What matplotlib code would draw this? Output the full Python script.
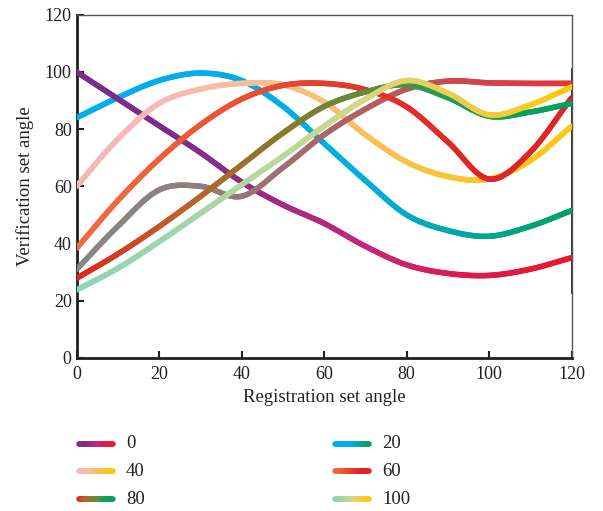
import numpy as np
import matplotlib
matplotlib.use('Agg')
import matplotlib.pyplot as plt
from matplotlib.collections import LineCollection
from matplotlib.colors import LinearSegmentedColormap

plt.rcParams['font.family'] = ['Liberation Serif', 'DejaVu Serif']

# Кути реєстраційного набору (вісь x)
x = [0, 10, 20, 30, 40, 50, 60, 70, 80, 90, 100, 110, 120]

# Значення
y_0 = [100, 90.6, 81.2, 71.8, 61.5, 53.5, 47, 39, 32.5, 29.5, 28.8, 31, 35]
y_20 = [84, 91, 97, 99.6, 97, 88, 75, 62, 50, 44.5, 42.5, 46, 51.5]
y_40 = [60, 76.5, 89, 94, 96, 95.5, 89.5, 78, 68.5, 63.4, 62.5, 69, 81]
y_60 = [38.3, 55, 69.5, 81.5, 90.5, 95.3, 96, 93.8, 87.8, 75.5, 62.5, 72, 91]
y_80 = [27.8, 36.3, 45.9, 56.4, 67.5, 78.6, 87.9, 93, 95.5, 91, 84.5, 86, 89]
y_100 = [23.7, 31.3, 40.6, 50.5, 60.5, 70.5, 81, 90.5, 97, 92.6, 85, 88.5, 94.8]
y_grey = [30.9, 46, 58.7, 60, 56.5, 66.5, 78, 87, 94, 96.8, 96.2, 96, 96]

labels = ['0', '20', '40', '60', '80', '100']

# Градієнтні кольори ліній (від початку до кінця)
grad_0 = ['#7a2d8c', '#7f2b8a', '#a02a86', '#c8267a', '#e0174a', '#e8192e']
grad_20 = ['#00aeef', '#00aeef', '#00adea', '#00aedd', '#00a79a', '#00a063']
grad_40 = ['#f4b6ba', '#f5bcb6', '#f8c08c', '#fbbf55', '#fdc32a', '#fec60c']
grad_60 = ['#ef6d43', '#ec5e35', '#e84a2e', '#e3342a', '#e12426', '#e12226']
grad_80 = ['#e2231f', '#c0602a', '#8c782a', '#5e8e3c', '#10a060', '#00a060']
grad_100 = ['#8fd3b6', '#9fd5aa', '#b8d89a', '#d8d580', '#f4cc40', '#fec60c']
grad_grey = ['#878787', '#8c8080', '#9c7272', '#b45c5e', '#d2444a', '#e2333b']


def smooth(xs, ys, n=25):
    # Catmull-Rom для плавної лінії між зчитаними точками
    xs = np.asarray(xs, float)
    ys = np.asarray(ys, float)
    px = np.concatenate([[2 * xs[0] - xs[1]], xs, [2 * xs[-1] - xs[-2]]])
    py = np.concatenate([[2 * ys[0] - ys[1]], ys, [2 * ys[-1] - ys[-2]]])
    out_x, out_y = [], []
    t = np.linspace(0, 1, n, endpoint=False)
    for i in range(1, len(px) - 2):
        for p, out in ((px, out_x), (py, out_y)):
            p0, p1, p2, p3 = p[i - 1], p[i], p[i + 1], p[i + 2]
            out.extend(0.5 * (2 * p1 + (-p0 + p2) * t
                              + (2 * p0 - 5 * p1 + 4 * p2 - p3) * t ** 2
                              + (-p0 + 3 * p1 - 3 * p2 + p3) * t ** 3))
    out_x.append(xs[-1])
    out_y.append(ys[-1])
    return np.array(out_x), np.array(out_y)


def gradient_line(ax, xs, ys, colors, lw=4.0, zorder=3):
    cmap = LinearSegmentedColormap.from_list('g', colors)
    pts = np.column_stack([xs, ys]).reshape(-1, 1, 2)
    segs = np.concatenate([pts[:-1], pts[1:]], axis=1)
    c = (xs[:-1] - xs.min()) / (xs.max() - xs.min())
    lc = LineCollection(segs, cmap=cmap, linewidth=lw, capstyle='round',
                        joinstyle='round', zorder=zorder)
    lc.set_array(c)
    lc.set_clim(0, 1)
    ax.add_collection(lc)
    return lc


fig = plt.figure(figsize=(6.03, 5.11), dpi=100)
ax = fig.add_axes([0.127, 0.300, 0.821, 0.671])

series = [(y_20, grad_20), (y_0, grad_0), (y_40, grad_40), (y_grey, grad_grey),
          (y_60, grad_60), (y_80, grad_80), (y_100, grad_100)]
for k, (ys, cols) in enumerate(series):
    sx, sy = smooth(x, ys)
    gradient_line(ax, sx, sy, cols, zorder=3 + k)

ax.set_xlim(0, 120)
ax.set_ylim(0, 120)
ax.set_xticks(np.arange(0, 121, 20))
ax.set_yticks(np.arange(0, 121, 20))
ax.tick_params(direction='in', length=5, width=1.5, labelsize=13, colors='#231f20')
ax.tick_params(axis='x', pad=6)
for s in ['left', 'bottom']:
    ax.spines[s].set_linewidth(2)
    ax.spines[s].set_color('#231f20')
for s in ['top', 'right']:
    ax.spines[s].set_linewidth(1)
    ax.spines[s].set_color('#555555')
ax.axvline(120, ymin=23 / 120, ymax=101 / 120, color='#231f20', lw=2, zorder=2)
ax.set_xlabel('Registration set angle', fontsize=13.5, color='#231f20', labelpad=4)
ax.set_ylabel('Verification set angle', fontsize=13.5, color='#231f20', labelpad=8)

# Легенда з градієнтними лініями
lax = fig.add_axes([0, 0, 1, 0.2])
lax.set_xlim(0, 603)
lax.set_ylim(102.2, 0)
lax.axis('off')
legend_cols = [grad_0, grad_20, grad_40, grad_60, grad_80, grad_100]
for i, (lab, cols) in enumerate(zip(labels, legend_cols)):
    col, row = i % 2, i // 2
    x0 = 79 if col == 0 else 335
    yy = 444 - 408.8 + row * 27.5
    hx = np.linspace(x0, x0 + 34, 40)
    gradient_line(lax, hx, np.full_like(hx, yy), cols, lw=4.0)
    lax.text(x0 + 47, yy, lab, fontsize=13.5, va='center', ha='left', color='#231f20')

fig.savefig('out.png', dpi=100)
